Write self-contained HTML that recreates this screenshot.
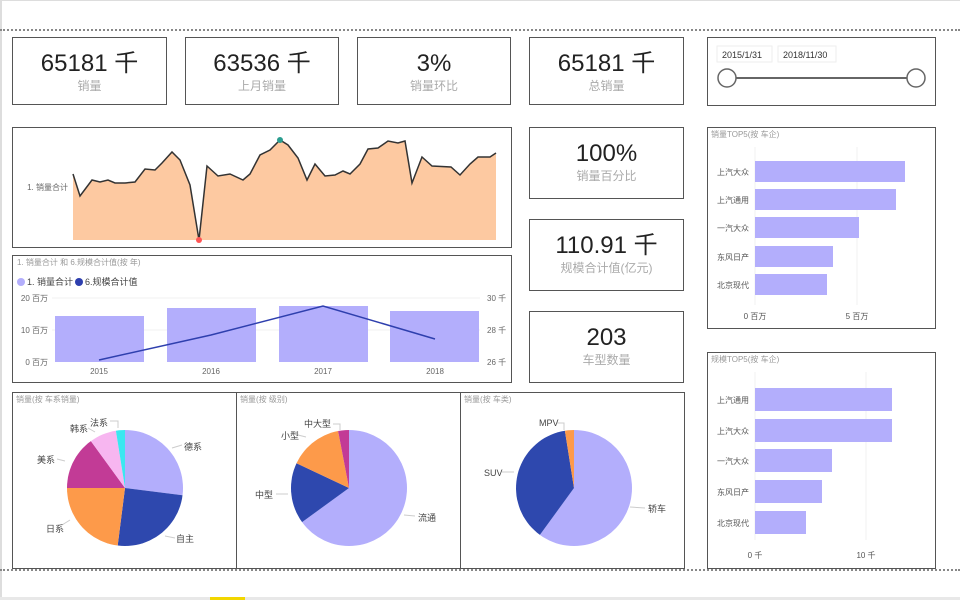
<!DOCTYPE html>
<html><head><meta charset="utf-8"><style>
body{margin:0;width:960px;height:600px;background:#fff;position:relative;overflow:hidden;font-family:"Liberation Sans","Noto Sans CJK SC",sans-serif}
.b{position:absolute;border:1.5px solid #555;box-sizing:border-box;background:#fff}
.k{text-align:center}
.k .v{font-size:24px;color:#222;margin-top:12px;line-height:28px}
.k .l{font-size:12px;color:#aaa;line-height:16px}
svg{position:absolute;left:0;top:0}
</style></head><body>
<div style="position:absolute;left:0;top:0;width:960px;height:1px;background:#ddd"></div>
<div style="position:absolute;left:0;top:0;width:2px;height:600px;background:#ddd"></div>
<div style="position:absolute;left:0;top:29px;width:960px;border-top:2px dotted #888"></div>
<div style="position:absolute;left:0;top:569px;width:960px;border-top:2px dotted #888"></div>
<div style="position:absolute;left:0;top:597px;width:960px;height:3px;background:#e8e8e8"></div>
<div style="position:absolute;left:210px;top:597px;width:35px;height:3px;background:#f2d600"></div>

<div class="b k" style="left:12px;top:37px;width:155px;height:68px"><div class="v">65181 千</div><div class="l">销量</div></div>
<div class="b k" style="left:185px;top:37px;width:154px;height:68px"><div class="v">63536 千</div><div class="l">上月销量</div></div>
<div class="b k" style="left:357px;top:37px;width:154px;height:68px"><div class="v">3%</div><div class="l">销量环比</div></div>
<div class="b k" style="left:529px;top:37px;width:155px;height:68px"><div class="v">65181 千</div><div class="l">总销量</div></div>
<div class="b" style="left:707px;top:37px;width:229px;height:69px"></div>
<div class="b" style="left:12px;top:127px;width:500px;height:121px"></div>
<div class="b" style="left:12px;top:255px;width:500px;height:128px"></div>
<div class="b k" style="left:529px;top:127px;width:155px;height:72px"><div class="v">100%</div><div class="l">销量百分比</div></div>
<div class="b k" style="left:529px;top:219px;width:155px;height:72px"><div class="v">110.91 千</div><div class="l">规模合计值(亿元)</div></div>
<div class="b k" style="left:529px;top:311px;width:155px;height:72px"><div class="v">203</div><div class="l">车型数量</div></div>
<div class="b" style="left:707px;top:127px;width:229px;height:202px"></div>
<div class="b" style="left:707px;top:352px;width:229px;height:217px"></div>
<div class="b" style="left:12px;top:392px;width:225px;height:177px"></div>
<div class="b" style="left:236px;top:392px;width:225px;height:177px"></div>
<div class="b" style="left:460px;top:392px;width:225px;height:177px"></div>

<svg width="960" height="600" font-family="Liberation Sans, Noto Sans CJK SC, sans-serif">
<rect x="717" y="46" width="55" height="16" fill="#fff" stroke="#eee"/><text x="722" y="58" font-size="9" fill="#333">2015/1/31</text>
<rect x="778" y="46" width="58" height="16" fill="#fff" stroke="#eee"/><text x="783" y="58" font-size="9" fill="#333">2018/11/30</text>
<line x1="735" y1="78" x2="908" y2="78" stroke="#666" stroke-width="2"/>
<circle cx="727" cy="78" r="9" fill="#fff" stroke="#666" stroke-width="1.5"/>
<circle cx="916" cy="78" r="9" fill="#fff" stroke="#666" stroke-width="1.5"/>

<text x="68" y="190" font-size="8" fill="#666" text-anchor="end">1. 销量合计</text>
<path id="ar" fill="#fdc9a1" stroke="none"/>
<path id="ln" fill="none" stroke="#333" stroke-width="1.5"/>
<circle cx="280" cy="140" r="3" fill="#2a9d8f"/>
<circle cx="199" cy="240" r="3" fill="#f55"/>

<text x="17" y="265" font-size="8" fill="#999">1. 销量合计 和 6.规模合计值(按 年)</text>
<circle cx="21" cy="282" r="4" fill="#b3aefc"/><text x="27" y="285" font-size="9" fill="#444">1. 销量合计</text>
<circle cx="79" cy="282" r="4" fill="#2e3fae"/><text x="85" y="285" font-size="9" fill="#444">6.规模合计值</text>
<g font-size="8" fill="#666">
<text x="48" y="301" text-anchor="end">20 百万</text><text x="48" y="333" text-anchor="end">10 百万</text><text x="48" y="365" text-anchor="end">0 百万</text>
<text x="487" y="301">30 千</text><text x="487" y="333">28 千</text><text x="487" y="365">26 千</text>
<text x="99" y="374" text-anchor="middle">2015</text><text x="211" y="374" text-anchor="middle">2016</text><text x="323" y="374" text-anchor="middle">2017</text><text x="435" y="374" text-anchor="middle">2018</text>
</g>
<line x1="52" y1="298" x2="480" y2="298" stroke="#f2f2f2"/><line x1="52" y1="330" x2="480" y2="330" stroke="#f2f2f2"/>
<g fill="#b3aefc"><rect x="55" y="316" width="89" height="46"/><rect x="167" y="308" width="89" height="54"/><rect x="279" y="306" width="89" height="56"/><rect x="390" y="311" width="89" height="51"/></g>
<polyline points="99,360 211,335 323,306 435,339" fill="none" stroke="#2e3fae" stroke-width="1.5"/>

<text x="711" y="137" font-size="8" fill="#999">销量TOP5(按 车企)</text>
<line x1="755" y1="147" x2="755" y2="305" stroke="#f2f2f2"/><line x1="857" y1="147" x2="857" y2="305" stroke="#f2f2f2"/>
<g fill="#b3aefc"><rect x="755" y="161" width="150" height="21"/><rect x="755" y="189" width="141" height="21"/><rect x="755" y="217" width="104" height="21"/><rect x="755" y="246" width="78" height="21"/><rect x="755" y="274" width="72" height="21"/></g>
<g font-size="8" fill="#555" text-anchor="end"><text x="749" y="175">上汽大众</text><text x="749" y="203">上汽通用</text><text x="749" y="231">一汽大众</text><text x="749" y="260">东风日产</text><text x="749" y="288">北京现代</text></g>
<g font-size="8" fill="#555" text-anchor="middle"><text x="755" y="319">0 百万</text><text x="857" y="319">5 百万</text></g>

<text x="711" y="362" font-size="8" fill="#999">规模TOP5(按 车企)</text>
<line x1="755" y1="372" x2="755" y2="540" stroke="#f2f2f2"/><line x1="866" y1="372" x2="866" y2="540" stroke="#f2f2f2"/>
<g fill="#b3aefc"><rect x="755" y="388" width="137" height="23"/><rect x="755" y="419" width="137" height="23"/><rect x="755" y="449" width="77" height="23"/><rect x="755" y="480" width="67" height="23"/><rect x="755" y="511" width="51" height="23"/></g>
<g font-size="8" fill="#555" text-anchor="end"><text x="749" y="403">上汽通用</text><text x="749" y="434">上汽大众</text><text x="749" y="464">一汽大众</text><text x="749" y="495">东风日产</text><text x="749" y="526">北京现代</text></g>
<g font-size="8" fill="#555" text-anchor="middle"><text x="755" y="558">0 千</text><text x="866" y="558">10 千</text></g>

<g font-size="8" fill="#999"><text x="16" y="402">销量(按 车系销量)</text><text x="240" y="402">销量(按 级别)</text><text x="464" y="402">销量(按 车类)</text></g>
<g id="pies"></g>
<g stroke="#ccc" stroke-width="1" fill="none">
<path d="M172,448 L182,445"/><path d="M165,536 L175,538"/><path d="M62,525 L70,520"/><path d="M57,459 L65,461"/><path d="M88,428 L95,432"/><path d="M110,421 L118,421 L118,428"/>
<path d="M404,515 L415,516"/><path d="M276,494 L288,494"/><path d="M298,435 L306,437"/><path d="M333,424 L340,424 L340,430"/>
<path d="M502,472 L514,472"/><path d="M557,423 L564,423 L564,430"/><path d="M630,507 L645,508"/>
</g>
<g font-size="9" fill="#444">
<text x="184" y="450">德系</text><text x="176" y="542">自主</text><text x="46" y="532">日系</text><text x="37" y="463">美系</text><text x="70" y="432">韩系</text><text x="90" y="426">法系</text>
<text x="418" y="521">流通</text><text x="255" y="498">中型</text><text x="281" y="439">小型</text><text x="304" y="427">中大型</text>
<text x="484" y="476">SUV</text><text x="539" y="426">MPV</text><text x="648" y="512">轿车</text>
</g>
</svg>
<script>
var pts=[[73,174],[80,196],[92,180],[100,182],[108,180],[115,183],[125,183],[135,182],[145,169],[155,170],[162,163],[172,152],[180,160],[190,185],[199,240],[207,166],[218,176],[230,174],[243,180],[250,174],[260,155],[270,150],[280,140],[288,145],[298,158],[307,180],[315,164],[325,176],[335,175],[343,171],[350,174],[360,164],[368,149],[378,148],[388,141],[398,143],[405,141],[412,183],[422,157],[432,166],[451,167],[460,175],[470,164],[478,157],[490,157],[496,153]];
var l="M"+pts.map(p=>p.join(",")).join(" L");
document.getElementById("ln").setAttribute("d",l);
document.getElementById("ar").setAttribute("d",l+" L496,240 L73,240 Z");
var NS="http://www.w3.org/2000/svg",g=document.getElementById("pies");
function pie(cx,cy,rx,ry,sl){var a=0;sl.forEach(function(s){var b=a+s[0];var n=Math.max(2,Math.ceil(s[0]*100));var d="M"+cx+","+cy;for(var i=0;i<=n;i++){var t=(a+(b-a)*i/n)*2*Math.PI;d+=" L"+(cx+rx*Math.sin(t)).toFixed(1)+","+(cy-ry*Math.cos(t)).toFixed(1);}d+="Z";var p=document.createElementNS(NS,"path");p.setAttribute("d",d);p.setAttribute("fill",s[1]);g.appendChild(p);a=b;});}
pie(125,488,58,58,[[0.27,"#b3aefc"],[0.25,"#2e48ae"],[0.23,"#fd9a4a"],[0.15,"#c23b96"],[0.075,"#f7b6f0"],[0.025,"#3ae8f0"]]);
pie(349,488,58,58,[[0.65,"#b3aefc"],[0.17,"#2e48ae"],[0.15,"#fd9a4a"],[0.03,"#c23b96"]]);
pie(574,488,58,58,[[0.6,"#b3aefc"],[0.375,"#2e48ae"],[0.025,"#fd9a4a"]]);
</script>
</body></html>
